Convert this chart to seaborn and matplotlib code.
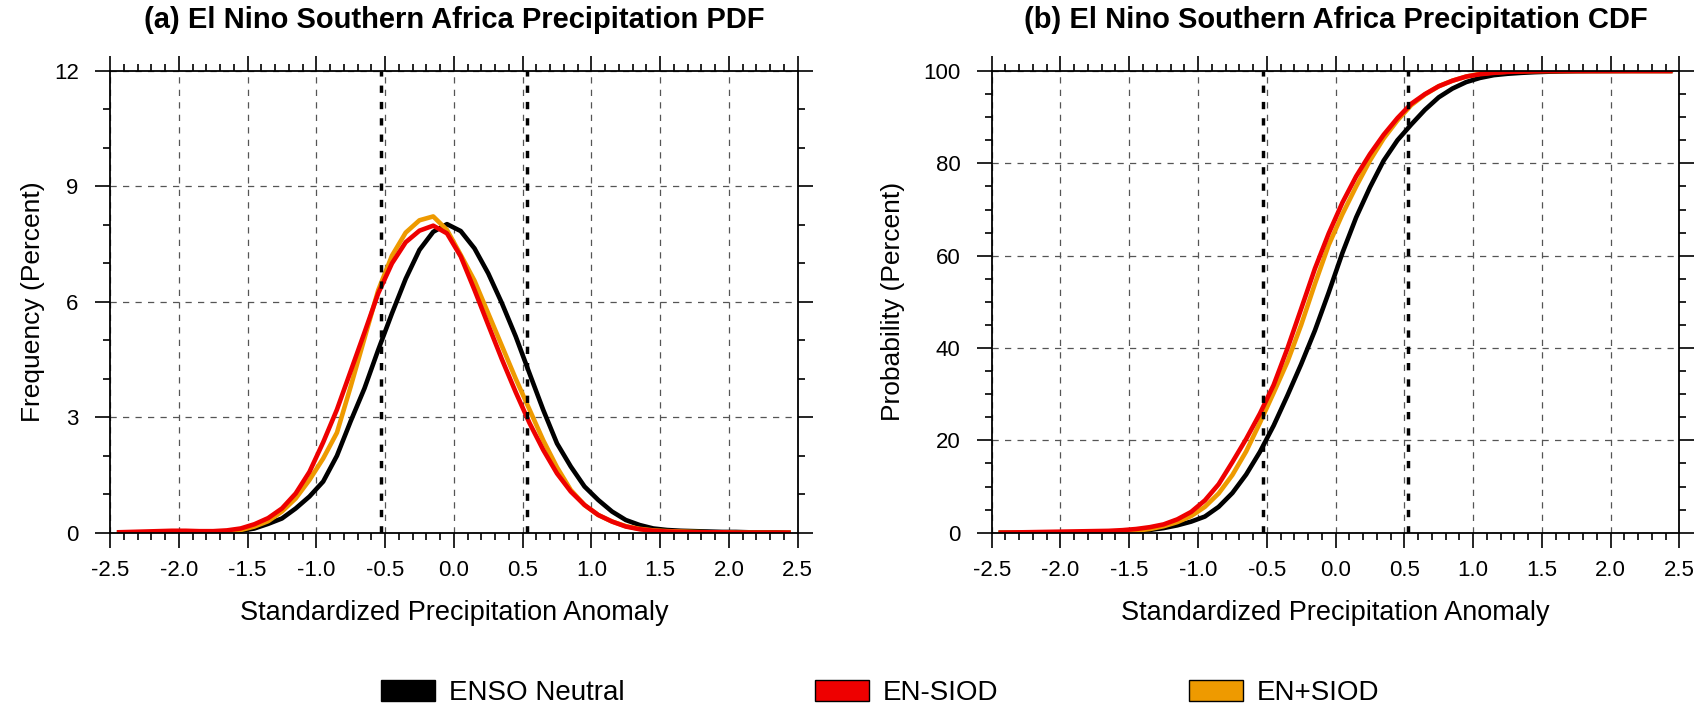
import numpy as np
import pandas as pd
import matplotlib
matplotlib.use("Agg")
import matplotlib.pyplot as plt
import seaborn as sns
from matplotlib.ticker import MultipleLocator, FormatStrFormatter
from matplotlib.patches import Patch

# ---------------- data ----------------
anomaly = [-2.45, -2.35, -2.25, -2.15, -2.05, -1.95, -1.85, -1.75, -1.65, -1.55,
           -1.45, -1.35, -1.25, -1.15, -1.05, -0.95, -0.85, -0.75, -0.65, -0.55,
           -0.45, -0.35, -0.25, -0.15, -0.05, 0.05, 0.15, 0.25, 0.35, 0.45,
           0.55, 0.65, 0.75, 0.85, 0.95, 1.05, 1.15, 1.25, 1.35, 1.45,
           1.55, 1.65, 1.75, 1.85, 1.95, 2.05, 2.15, 2.25, 2.35, 2.45]

series_names = ["ENSO Neutral", "EN-SIOD", "EN+SIOD"]

pdf_neutral = [0.00, 0.00, 0.01, 0.01, 0.01, 0.01, 0.01, 0.02, 0.03, 0.05,
               0.11, 0.23, 0.37, 0.63, 0.94, 1.33, 2.00, 2.90, 3.75, 4.75,
               5.70, 6.60, 7.35, 7.82, 8.02, 7.84, 7.39, 6.74, 5.96, 5.10,
               4.14, 3.19, 2.32, 1.72, 1.20, 0.85, 0.55, 0.33, 0.20, 0.11,
               0.07, 0.05, 0.04, 0.03, 0.02, 0.02, 0.01, 0.01, 0.01, 0.00]
pdf_en_siod = [0.01, 0.02, 0.03, 0.04, 0.05, 0.05, 0.04, 0.04, 0.06, 0.11,
               0.22, 0.38, 0.63, 1.02, 1.58, 2.35, 3.20, 4.20, 5.20, 6.22,
               7.00, 7.55, 7.85, 7.98, 7.78, 7.18, 6.31, 5.40, 4.50, 3.65,
               2.85, 2.15, 1.54, 1.07, 0.72, 0.46, 0.29, 0.16, 0.09, 0.05,
               0.03, 0.02, 0.01, 0.01, 0.01, 0.00, 0.00, 0.00, 0.00, 0.00]
pdf_en_piod = [0.00, 0.00, 0.01, 0.01, 0.01, 0.01, 0.01, 0.02, 0.03, 0.07,
               0.16, 0.30, 0.55, 0.89, 1.37, 1.93, 2.60, 3.80, 5.05, 6.30,
               7.20, 7.80, 8.12, 8.22, 7.87, 7.22, 6.55, 5.70, 4.85, 4.00,
               3.20, 2.40, 1.70, 1.11, 0.72, 0.46, 0.29, 0.17, 0.10, 0.06,
               0.04, 0.03, 0.02, 0.01, 0.01, 0.00, 0.00, 0.00, 0.00, 0.00]

cdf_neutral = [0.0, 0.0, 0.0, 0.01, 0.01, 0.02, 0.03, 0.05, 0.1, 0.2,
               0.35, 0.6, 1.0, 1.6, 2.4, 3.5, 5.6, 8.6, 12.6, 17.5,
               23.2, 29.7, 36.5, 43.8, 52.0, 60.6, 68.3, 74.8, 80.6, 85.0,
               88.4, 91.6, 94.3, 96.2, 97.6, 98.5, 99.1, 99.4, 99.6, 99.75,
               99.85, 99.9, 99.95, 99.97, 99.98, 99.99, 100.0, 100.0, 100.0, 100.0]
cdf_en_siod = [0.0, 0.05, 0.1, 0.15, 0.2, 0.25, 0.3, 0.35, 0.4, 0.55,
               0.8, 1.2, 1.8, 2.9, 4.5, 7.0, 10.5, 15.3, 20.3, 25.8,
               32.0, 39.9, 48.5, 57.2, 64.8, 71.5, 77.2, 82.0, 86.2, 89.8,
               92.9, 95.0, 96.7, 97.9, 98.8, 99.3, 99.6, 99.8, 99.9, 99.95,
               100.0, 100.0, 100.0, 100.0, 100.0, 100.0, 100.0, 100.0, 100.0, 100.0]
cdf_en_piod = [0.0, 0.0, 0.0, 0.0, 0.01, 0.02, 0.05, 0.1, 0.15, 0.25,
               0.45, 0.8, 1.4, 2.3, 3.6, 5.6, 8.5, 12.5, 17.6, 23.8,
               30.3, 37.0, 45.0, 53.9, 62.3, 69.0, 75.0, 80.6, 85.4, 89.3,
               92.6, 94.9, 96.7, 97.9, 98.8, 99.4, 99.7, 99.85, 99.95, 100.0,
               100.0, 100.0, 100.0, 100.0, 100.0, 100.0, 100.0, 100.0, 100.0, 100.0]

thresholds = [-0.53, 0.53]

x_ticks = [-2.5, -2.0, -1.5, -1.0, -0.5, 0.0, 0.5, 1.0, 1.5, 2.0, 2.5]
pdf_yticks = [0, 3, 6, 9, 12]
cdf_yticks = [0, 20, 40, 60, 80, 100]

titles = ["(a) El Nino Southern Africa Precipitation PDF",
          "(b) El Nino Southern Africa Precipitation CDF"]
ylabels = ["Frequency (Percent)", "Probability (Percent)"]
xlabel = "Standardized Precipitation Anomaly"

# ---------------- style ----------------
sns.set_theme(style="white")
plt.rcParams["font.family"] = ["Liberation Sans", "DejaVu Sans"]
plt.rcParams["text.color"] = "black"
plt.rcParams["axes.labelcolor"] = "black"
plt.rcParams["xtick.color"] = "black"
plt.rcParams["ytick.color"] = "black"

colors = {"ENSO Neutral": "#000000", "EN-SIOD": "#EE0000", "EN+SIOD": "#EE9A00"}
zorders = {"ENSO Neutral": 3, "EN+SIOD": 4, "EN-SIOD": 5}

W, H = 1706, 713
fig = plt.figure(figsize=(W / 100, H / 100), dpi=100)
ax_l = fig.add_axes([110 / W, (H - 532.7) / H, 687.7 / W, 461.7 / H])
ax_r = fig.add_axes([991.7 / W, (H - 532.7) / H, 687.7 / W, 461.7 / H])

pdf_df = pd.DataFrame({"x": anomaly, "ENSO Neutral": pdf_neutral,
                       "EN-SIOD": pdf_en_siod, "EN+SIOD": pdf_en_piod})
cdf_df = pd.DataFrame({"x": anomaly, "ENSO Neutral": cdf_neutral,
                       "EN-SIOD": cdf_en_siod, "EN+SIOD": cdf_en_piod})


def style_axes(ax, yticks, ymax, yminor, title, ylabel, ylab_x):
    ax.set_xlim(-2.5, 2.5)
    ax.set_ylim(0, ymax)
    ax.set_xticks(x_ticks)
    ax.set_yticks(yticks)
    ax.xaxis.set_minor_locator(MultipleLocator(0.1))
    ax.yaxis.set_minor_locator(MultipleLocator(yminor))
    ax.xaxis.set_major_formatter(FormatStrFormatter("%.1f"))
    ax.set_facecolor("white")
    for sp in ax.spines.values():
        sp.set_visible(True)
        sp.set_color("black")
        sp.set_linewidth(1.3)
        sp.set_zorder(7)
    ax.tick_params(which="both", direction="out", top=True, right=True,
                   bottom=True, left=True, labeltop=False, labelright=False,
                   width=1.2, color="black", labelcolor="black")
    ax.tick_params(which="major", length=10.5, labelsize=16)
    ax.tick_params(axis="x", which="major", pad=9)
    ax.tick_params(axis="y", which="major", pad=12)
    ax.tick_params(which="minor", length=5)
    ax.grid(True, which="major", color="#555555", linestyle=(0, (5, 5)),
            linewidth=0.9, zorder=1)
    ax.set_axisbelow(True)
    for t in thresholds:
        ax.axvline(t, color="black", linewidth=2.5,
                   linestyle=(0, (2.1, 2.6)), zorder=6)
    ax.set_title(title, fontsize=21, fontweight="bold", pad=31, color="black")
    ax.set_xlabel(xlabel, fontsize=19.5, color="black")
    ax.set_ylabel(ylabel, fontsize=19, color="black")
    ax.xaxis.set_label_coords(0.5, -0.146)
    ax.yaxis.set_label_coords(ylab_x, 0.5)


for ax, df in [(ax_l, pdf_df), (ax_r, cdf_df)]:
    for name in ["ENSO Neutral", "EN+SIOD", "EN-SIOD"]:
        sns.lineplot(data=df, x="x", y=name, color=colors[name], linewidth=3.3,
                     ax=ax, zorder=zorders[name], legend=False, sort=False,
                     solid_capstyle="butt")

style_axes(ax_l, pdf_yticks, 12, 1, titles[0], ylabels[0], -0.095)
style_axes(ax_r, cdf_yticks, 100, 5, titles[1], ylabels[1], -0.126)

handles = [Patch(facecolor=colors[n], edgecolor="black", linewidth=1.0, label=n)
           for n in series_names]
leg = fig.legend(handles=handles, loc="center left",
                 bbox_to_anchor=(381 / W, (H - 693) / H), ncol=3, frameon=False,
                 fontsize=20, handlelength=1.95, handleheight=0.76,
                 handletextpad=0.5, columnspacing=6.85, borderpad=0,
                 borderaxespad=0)
for txt in leg.get_texts():
    txt.set_color("black")

fig.savefig("out.png", dpi=100)
